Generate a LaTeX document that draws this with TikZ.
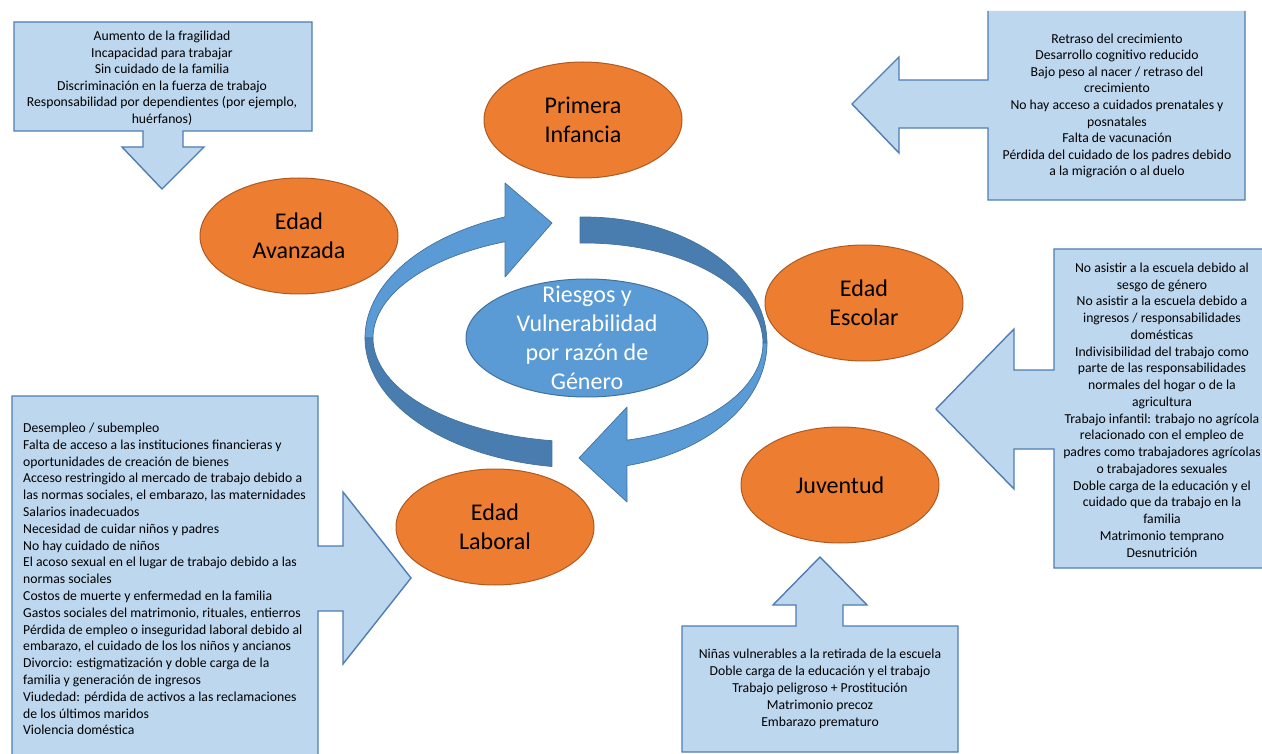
\documentclass[tikz,border=0pt]{standalone}
\usepackage{fontspec}
\setmainfont{Carlito}
\usetikzlibrary{shapes.geometric}
\definecolor{orangefill}{HTML}{ED7D31}
\definecolor{orangeline}{HTML}{AE5A21}
\definecolor{bluefill}{HTML}{5B9BD5}
\definecolor{bluedark}{HTML}{4A7DAF}
\definecolor{blueline}{HTML}{41719C}
\definecolor{callfill}{HTML}{BDD7EE}
\definecolor{callline}{HTML}{4F7DB3}
\begin{document}
\begin{tikzpicture}[x=1pt,y=-1pt,
  stage/.style={ellipse, draw=orangeline, fill=orangefill, line width=1pt,
    minimum width=198pt, minimum height=116pt, inner sep=0pt, align=center,
    font=\fontsize{24}{29}\selectfont},
  ribbonlight/.style={fill=bluefill, draw=blueline, line width=0.7pt, line join=round},
  ribbondark/.style={fill=bluedark, draw=blueline, line width=0.7pt, line join=round},
  callshape/.style={fill=callfill, draw=callline, line width=1.4pt, line join=miter},
  calltext/.style={inner sep=0pt, align=center, text=black},
]
\useasboundingbox (0,0) rectangle (1262,754);
\clip (0,0) rectangle (1262,754);

% ---- left ribbon (light upper part with arrowhead) ----
\filldraw[ribbonlight] (505,217) -- (505,183) -- (552,223) -- (505,277) -- (505,241.7)
  -- plot[domain=247.9:180, samples=40, variable=\t] ({585+212*cos(\t)},{338+104*sin(\t)})
  -- plot[domain=180:248.7, samples=40, variable=\t] ({585+220*cos(\t)},{338+130*sin(\t)}) -- cycle;
% ---- left ribbon (dark lower tail) ----
\filldraw[ribbondark] plot[domain=180:98.63, samples=40, variable=\t] ({585+220*cos(\t)},{338+130*sin(\t)})
  -- plot[domain=98.96:180, samples=40, variable=\t] ({585+212*cos(\t)},{338+104*sin(\t)}) -- cycle;
% ---- right ribbon (dark upper tail) ----
\filldraw[ribbondark] plot[domain=268.43:360, samples=40, variable=\t] ({585+182*cos(\t)},{343+126*sin(\t)})
  -- plot[domain=360:268.39, samples=40, variable=\t] ({585+178*cos(\t)},{343+100*sin(\t)}) -- cycle;
% ---- right ribbon (light lower part with arrowhead) ----
\filldraw[ribbonlight] plot[domain=0:76.66, samples=40, variable=\t] ({585+182*cos(\t)},{343+126*sin(\t)})
  -- (627,502) -- (579,458) -- (627,407)
  -- plot[domain=76.35:0, samples=40, variable=\t] ({585+178*cos(\t)},{343+100*sin(\t)}) -- cycle;

% ---- hub ----
\node[ellipse, fill=bluefill, draw=blueline, line width=1pt, minimum width=242pt,
  minimum height=118pt, inner sep=0pt] (hub) at (587,338) {};
\node[inner sep=0pt, align=center, text=white, font=\fontsize{24}{29}\selectfont]
  (hubtext) at (hub.center) {Riesgos y\\Vulnerabilidad\\por razón de\\Género};

% ---- stages ----
\node[stage] (infancia) at (583,120) {Primera\\Infancia};
\node[stage] (avanzada) at (299,236) {Edad\\Avanzada};
\node[stage] (escolar) at (864,303) {Edad\\Escolar};
\node[stage] (juventud) at (840,485) {Juventud};
\node[stage] (laboral) at (495,527) {Edad\\Laboral};

% ---- callout top-left (down arrow) ----
\filldraw[callshape] (14,22) -- (312,22) -- (312,131) -- (183,131) -- (183,147) -- (204,147)
  -- (162,189) -- (122,147) -- (143,147) -- (143,131) -- (14,131) -- cycle;
\node[calltext, font=\fontsize{13.7}{16.5}\selectfont] (tltext) at (162,78)
  {Aumento de la fragilidad\\Incapacidad para trabajar\\Sin cuidado de la familia\\Discriminación en la fuerza de trabajo\\Responsabilidad por dependientes (por ejemplo,\\huérfanos)};

% ---- callout top-right (left arrow) ----
\fill[callfill] (988,11) -- (988,80) -- (899,80) -- (899,57) -- (852,104) -- (899,153)
  -- (899,128) -- (988,128) -- (988,200) -- (1245,200) -- (1245,11) -- cycle;
\draw[callshape, fill=none] (988,11) -- (988,80) -- (899,80) -- (899,57) -- (852,104) -- (899,153)
  -- (899,128) -- (988,128) -- (988,200) -- (1245,200) -- (1245,11);
\node[calltext, font=\fontsize{13.7}{16.6}\selectfont] (trtext) at (1117,106)
  {Retraso del crecimiento\\Desarrollo cognitivo reducido\\Bajo peso al nacer / retraso del\\crecimiento\\No hay acceso a cuidados prenatales y\\posnatales\\Falta de vacunación\\Pérdida del cuidado de los padres debido\\a la migración o al duelo};

% ---- callout right (left arrow) ----
\filldraw[callshape] (1054,249) -- (1270,249) -- (1270,568) -- (1054,568) -- (1054,449)
  -- (1014,449) -- (1014,489) -- (936,409) -- (1014,329) -- (1014,370) -- (1054,370) -- cycle;
\node[calltext, font=\fontsize{13.7}{16.75}\selectfont] (rtext) at (1162,410)
  {No asistir a la escuela debido al\\sesgo de género\\No asistir a la escuela debido a\\ingresos / responsabilidades\\domésticas\\Indivisibilidad del trabajo como\\parte de las responsabilidades\\normales del hogar o de la\\agricultura\\Trabajo infantil: trabajo no agrícola\\relacionado con el empleo de\\padres como trabajadores agrícolas\\o trabajadores sexuales\\Doble carga de la educación y el\\cuidado que da trabajo en la\\familia\\Matrimonio temprano\\Desnutrición};

% ---- callout bottom-left (right arrow) ----
\filldraw[callshape] (12,396) -- (318,396) -- (318,546) -- (343,546) -- (343,492) -- (411,578)
  -- (343,664) -- (343,611) -- (318,611) -- (318,770) -- (12,770) -- cycle;
\node[calltext, align=left, anchor=west, font=\fontsize{13.7}{16.8}\selectfont] (bltext) at (23,579)
  {Desempleo / subempleo\\Falta de acceso a las instituciones financieras y\\oportunidades de creación de bienes\\Acceso restringido al mercado de trabajo debido a\\las normas sociales, el embarazo, las maternidades\\Salarios inadecuados\\Necesidad de cuidar niños y padres\\No hay cuidado de niños\\El acoso sexual en el lugar de trabajo debido a las\\normas sociales\\Costos de muerte y enfermedad en la familia\\Gastos sociales del matrimonio, rituales, entierros\\Pérdida de empleo o inseguridad laboral debido al\\embarazo, el cuidado de los los niños y ancianos\\Divorcio: estigmatización y doble carga de la\\familia y generación de ingresos\\Viudedad: pérdida de activos a las reclamaciones\\de los últimos maridos\\Violencia doméstica};

% ---- callout bottom (up arrow) ----
\filldraw[callshape] (682,626) -- (796,626) -- (796,605) -- (773,605) -- (820,557) -- (867,605)
  -- (843,605) -- (843,626) -- (958,626) -- (958,752) -- (682,752) -- cycle;
\node[calltext, font=\fontsize{13.7}{17}\selectfont] (btext) at (820,689)
  {Niñas vulnerables a la retirada de la escuela\\Doble carga de la educación y el trabajo\\Trabajo peligroso + Prostitución\\Matrimonio precoz\\Embarazo prematuro};
\end{tikzpicture}
\end{document}
